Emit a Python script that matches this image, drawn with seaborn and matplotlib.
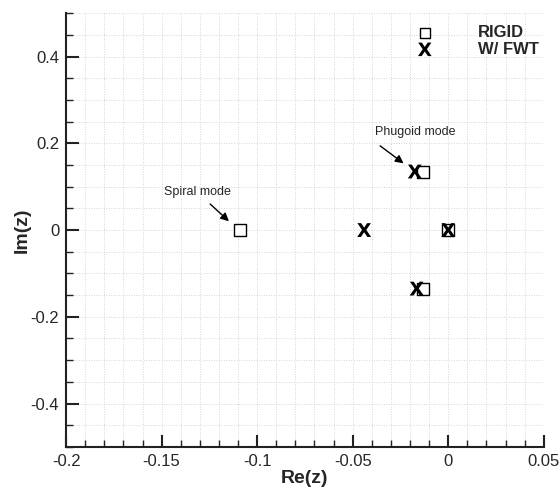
import matplotlib
matplotlib.use("Agg")
import matplotlib.pyplot as plt
from matplotlib.ticker import MultipleLocator
import seaborn as sns
import pandas as pd

# ---- data ----
rigid_re = [-0.109, -0.013, -0.013, 0.0]
rigid_im = [0.0, 0.135, -0.137, 0.0]
fwt_re = [-0.044, -0.0175, -0.0165, 0.0]
fwt_im = [0.0, 0.135, -0.135, 0.0]
series_labels = ["RIGID", "W/ FWT"]
x_ticks = [-0.2, -0.15, -0.1, -0.05, 0, 0.05]
x_tick_labels = ["-0.2", "-0.15", "-0.1", "-0.05", "0", "0.05"]
y_ticks = [-0.4, -0.2, 0, 0.2, 0.4]
y_tick_labels = ["-0.4", "-0.2", "0", "0.2", "0.4"]

rigid = pd.DataFrame({"Re": rigid_re, "Im": rigid_im})
fwt = pd.DataFrame({"Re": fwt_re, "Im": fwt_im})

sns.set_style("ticks")
plt.rcParams["font.family"] = ["Liberation Sans", "DejaVu Sans"]

fig = plt.figure(figsize=(5.6, 4.9), dpi=100)
ax = fig.add_axes([0.118, 0.088, 0.853, 0.885])

sns.scatterplot(data=rigid, x="Re", y="Im", marker="s", s=78, facecolor="white",
                edgecolor="black", linewidth=1.0, ax=ax, label=series_labels[0], zorder=3)
sns.scatterplot(data=fwt, x="Re", y="Im", marker=r"$\mathbf{X}$", s=100, color="black",
                edgecolor="none", linewidth=0, ax=ax, label=series_labels[1], zorder=4)

ax.set_xlim(-0.2, 0.05)
ax.set_ylim(-0.5, 0.5)
ax.set_xticks(x_ticks)
ax.set_xticklabels(x_tick_labels)
ax.set_yticks(y_ticks)
ax.set_yticklabels(y_tick_labels)
ax.xaxis.set_minor_locator(MultipleLocator(0.01))
ax.yaxis.set_minor_locator(MultipleLocator(0.05))

ax.grid(True, which="both", linestyle=(0, (1, 2)), color="#c8c8c8", linewidth=0.6)
ax.set_axisbelow(True)

for s in ["top", "right"]:
    ax.spines[s].set_visible(False)
for s in ["left", "bottom"]:
    ax.spines[s].set_linewidth(1.5)
    ax.spines[s].set_color("#222222")

ax.tick_params(which="major", direction="in", length=9, width=1.5, labelsize=12,
               color="#222222", pad=5)
ax.tick_params(which="minor", direction="in", length=5, width=1.0, color="#222222")

ax.set_xlabel("Re(z)", fontsize=14, fontweight="bold", labelpad=1)
ax.set_ylabel("Im(z)", fontsize=14, fontweight="bold", labelpad=0)

# annotations
ax.text(-0.0175, 0.226, "Phugoid mode", fontsize=9, ha="center", va="center")
ax.annotate("", xy=(-0.0222, 0.150), xytext=(-0.0368, 0.198),
            arrowprops=dict(arrowstyle="-|>", color="black", lw=1.0, mutation_scale=12))
ax.text(-0.131, 0.0876, "Spiral mode", fontsize=9, ha="center", va="center")
ax.annotate("", xy=(-0.1137, 0.016), xytext=(-0.1257, 0.0645),
            arrowprops=dict(arrowstyle="-|>", color="black", lw=1.0, mutation_scale=12))

leg = ax.legend(loc="upper left", bbox_to_anchor=(0.737, 0.972), frameon=False,
                handlelength=0.8, handletextpad=2.8, labelspacing=0.08, borderpad=0,
                borderaxespad=0, prop={"weight": "bold", "size": 12})
handles = leg.legend_handles
handles[0].set_sizes([55])
handles[1].set_sizes([95])

fig.savefig("out.png", dpi=100)
